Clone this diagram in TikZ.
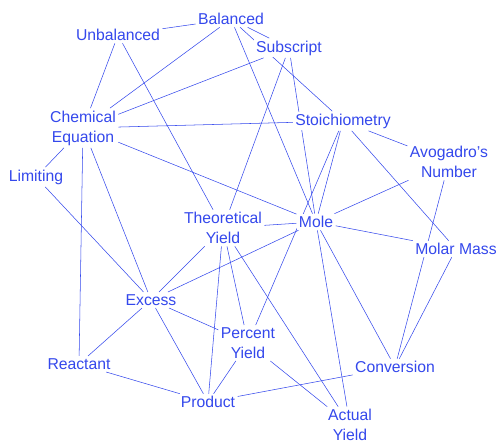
\documentclass[tikz,border=0pt]{standalone}
\usepackage{fontspec}
\setmainfont{Liberation Sans}
\usepackage{tikz}
\usetikzlibrary{backgrounds}
\usepackage{xcolor}
\definecolor{mapblue}{RGB}{52,72,236}

\begin{document}
\begin{tikzpicture}[x=0.75pt,y=-0.75pt,mapblue,line width=0.8pt,
	every edge/.append style={draw=mapblue},
	concept/.style={fill=white,inner sep=1.5pt,align=center,
		font=\fontsize{11.8}{15}\selectfont}]
	
	\useasboundingbox (0,0) rectangle (498,442);
	
	\node[concept] (bal) at (231,19) {Balanced};
	\node[concept] (unbal) at (118,35) {Unbalanced};
	\node[concept] (sub) at (289,48) {Subscript};
	\node[concept] (chem) at (83,128) {Chemical\\Equation};
	\node[concept] (lim) at (36,177) {Limiting};
	\node[concept] (stoich) at (343,121) {Stoichiometry};
	\node[concept] (avo) at (449,162) {Avogadro's\\Number};
	\node[concept] (theo) at (223,228) {Theoretical\\Yield};
	\node[concept] (mole) at (316,222) {Mole};
	\node[concept] (molar) at (456,249) {Molar Mass};
	\node[concept] (excess) at (151,300) {Excess};
	\node[concept] (percent) at (248,343) {Percent\\Yield};
	\node[concept] (react) at (79,364) {Reactant};
	\node[concept] (conv) at (395,367) {Conversion};
	\node[concept] (product) at (208,402) {Product};
	\node[concept] (actual) at (350,425) {Actual\\Yield};
	
	\begin{pgfonlayer}{background}
	\path (unbal) edge (bal)
	              edge (chem)
	              edge (theo)
	      (bal) edge (chem)
	            edge (mole)
	            edge (stoich)
	            edge (sub)
	      (sub) edge (chem)
	            edge (theo)
	            edge (mole)
	      (chem) edge (stoich)
	             edge (mole)
	             edge (lim)
	             edge (react)
	             edge (excess)
	      (lim) edge (excess)
	      (theo) edge (mole)
	             edge (excess)
	             edge (product)
	             edge (percent)
	             edge (actual)
	      (mole) edge (excess)
	             edge (actual)
	             edge (conv)
	             edge (molar)
	             edge (avo)
	      (stoich) edge (mole)
	               edge (percent)
	               edge (avo)
	               edge (molar)
	      (avo) edge (conv)
	      (molar) edge (conv)
	      (excess) edge (percent)
	               edge (product)
	               edge (react)
	      (react) edge (product)
	      (percent) edge (product)
	                edge (actual)
	      (product) edge (conv);
	\end{pgfonlayer}
\end{tikzpicture}
\end{document}
